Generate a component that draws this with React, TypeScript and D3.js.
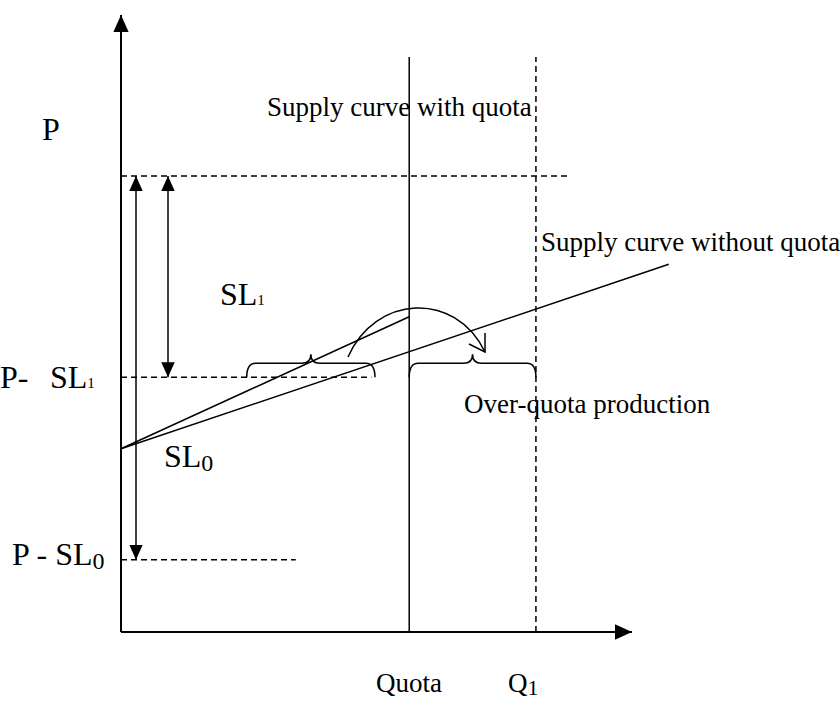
import React from "react";
import * as d3 from "d3";

// quantity / price units (0..100 on both axes)
const quantityMarks = [
  { key: "quota", value: 56.4 },
  { key: "q1", value: 81.2 },
];
const priceLevels = [
  { key: "P", value: 73.9, end: 87.5 },
  { key: "P-SL1", value: 41.3, end: 49 },
  { key: "P-SL0", value: 11.7, end: 34.2 },
];
// supply without quota: [q, p]
const supplyNoQuota = [
  [0, 29.7],
  [107.2, 59.6],
];
// supply (SL1 slope) up to quota
const supplySL1 = [
  [0, 29.7],
  [56.4, 51.1],
];
// braces: [from q, to q]
const braces = [
  [24.6, 49.7],
  [56.4, 81.2],
];

const W = 840;
const H = 701;
const FONT = "'Liberation Serif', 'Times New Roman', serif";

const x = d3.scaleLinear().domain([0, 100]).range([121, 632]);
const y = d3.scaleLinear().domain([0, 100]).range([632, 15]);

const line = d3
  .line<number[]>()
  .x((d) => x(d[0]))
  .y((d) => y(d[1]));

function bracePath(x0: number, x1: number, yb: number) {
  const xc = (x0 + x1) / 2;
  const ym = yb - 14;
  const yt = yb - 23;
  const r = 9;
  return `M${x0},${yb} Q${x0},${ym} ${x0 + r},${ym} L${xc - r},${ym} Q${xc},${ym} ${xc},${yt} Q${xc},${ym} ${xc + r},${ym} L${x1 - r},${ym} Q${x1},${ym} ${x1},${yb}`;
}

export default function App() {
  const quota = quantityMarks[0].value;
  const q1 = quantityMarks[1].value;
  const [pP, pSL1, pSL0] = priceLevels;
  const arrowX1 = 136;
  const arrowX2 = 168;
  const ySL1 = y(pSL1.value);
  return (
    <svg
      width={W}
      height={H}
      style={{ position: "absolute", left: 0, top: 0, background: "#fff" }}
      fontFamily={FONT}
    >
      <defs>
        <marker id="triBig" viewBox="0 0 10 10" refX="10" refY="5" markerWidth="17" markerHeight="17" markerUnits="userSpaceOnUse" orient="auto-start-reverse">
          <path d="M0,0.5 L10,5 L0,9.5 z" fill="#000" />
        </marker>
        <marker id="triMid" viewBox="0 0 10 10" refX="10" refY="5" markerWidth="15" markerHeight="15" markerUnits="userSpaceOnUse" orient="auto-start-reverse">
          <path d="M0,0.5 L10,5 L0,9.5 z" fill="#000" />
        </marker>
      </defs>

      {/* axes */}
      <line x1={x(0)} y1={y(0)} x2={x(0)} y2={y(100)} stroke="#000" strokeWidth={2} markerEnd="url(#triBig)" />
      <line x1={x(0)} y1={y(0)} x2={x(100)} y2={y(0)} stroke="#000" strokeWidth={2} markerEnd="url(#triBig)" />

      {/* price levels */}
      {priceLevels.map((p) => (
        <line key={p.key} x1={x(0)} x2={x(p.end)} y1={y(p.value)} y2={y(p.value)} stroke="#000" strokeWidth={1.5} strokeDasharray="6,4" />
      ))}

      {/* quota (solid) and Q1 (dashed) */}
      <line x1={x(quota)} x2={x(quota)} y1={y(0)} y2={y(93.2)} stroke="#000" strokeWidth={1.5} />
      <line x1={x(q1)} x2={x(q1)} y1={y(0)} y2={y(93.2)} stroke="#000" strokeWidth={1.5} strokeDasharray="6,4" />

      {/* supply curves */}
      <path d={line(supplyNoQuota as number[][]) || ""} stroke="#000" strokeWidth={1.5} fill="none" />
      <path d={line(supplySL1 as number[][]) || ""} stroke="#000" strokeWidth={1.5} fill="none" />

      {/* double-headed arrows */}
      <line x1={arrowX1} x2={arrowX1} y1={y(pP.value)} y2={y(pSL0.value)} stroke="#000" strokeWidth={1.5} markerStart="url(#triMid)" markerEnd="url(#triMid)" />
      <line x1={arrowX2} x2={arrowX2} y1={y(pP.value)} y2={y(pSL1.value)} stroke="#000" strokeWidth={1.5} markerStart="url(#triMid)" markerEnd="url(#triMid)" />

      {/* braces */}
      {braces.map((b, i) => (
        <path key={i} d={bracePath(x(b[0]), x(b[1]), ySL1)} stroke="#000" strokeWidth={1.5} fill="none" />
      ))}

      {/* curved arrow */}
      <path d="M348,357 C375,295 455,290 485,352" stroke="#000" strokeWidth={1.5} fill="none" />
      <path d="M485,333 L485,352 L469,344" stroke="#000" strokeWidth={1.5} fill="none" />

      {/* labels */}
      <g fontSize={32} fill="#000">
        <text x={42} y={140}>P</text>
        <text y={388}>
          <tspan x={0}>P-</tspan>
          <tspan x={50}>SL</tspan>
          <tspan fontSize={15}>1</tspan>
        </text>
        <text x={12} y={565}>P - SL<tspan fontSize={24} dy={4}>0</tspan></text>
        <text x={220} y={305}>SL<tspan fontSize={15}>1</tspan></text>
        <text x={164} y={467}>SL<tspan fontSize={24} dy={4}>0</tspan></text>
      </g>
      <g fontSize={27} fill="#000">
        <text x={267} y={116}>Supply curve with quota</text>
        <text x={541} y={251}>Supply curve without quota</text>
        <text x={464} y={413}>Over-quota production</text>
        <text x={376} y={692}>Quota</text>
        <text x={508} y={692}>Q<tspan fontSize={22} dy={3}>1</tspan></text>
      </g>
    </svg>
  );
}
